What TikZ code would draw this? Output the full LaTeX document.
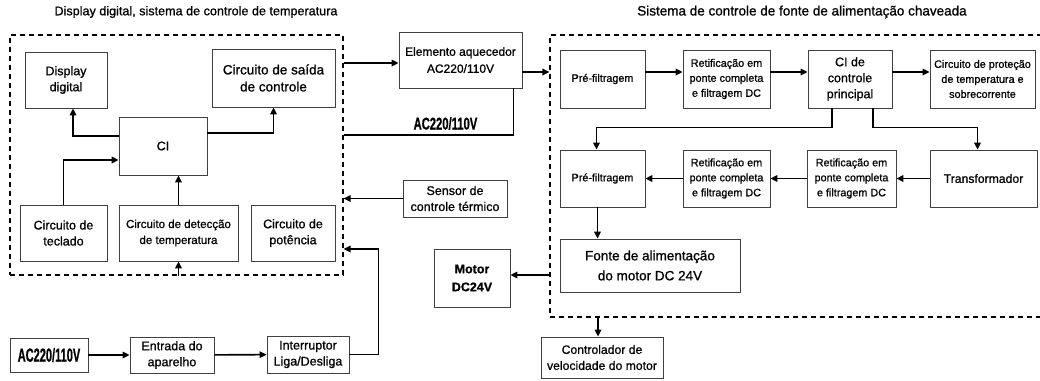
\documentclass[tikz,border=0pt]{standalone}
\usepackage{fontspec}
\setmainfont{Liberation Sans}[FakeBold=0.9]
\usetikzlibrary{arrows.meta}
\newcommand{\estreito}[2]{\scalebox{#1}[1]{\bfseries\fontsize{#2}{#2}\selectfont AC220/110V}}

\begin{document}
\begin{tikzpicture}[x=1pt,y=-1pt,
  bloco/.style={draw=black!75,line width=0.8pt,align=center,inner sep=0pt,font=\fontsize{12.5}{16}\selectfont},
  blocop/.style={bloco,font=\fontsize{10.8}{15}\selectfont},
  moldura/.style={draw,dash pattern=on 5pt off 4pt,line width=1.1pt,inner sep=0pt},
  seta/.style={-{Triangle[length=7pt,width=6.5pt]},line width=1.6pt},
  linha/.style={line width=1.6pt}]
  \clip (0,0) rectangle (1040,380);
  % titulos
  \node[font=\fontsize{12.6}{16}\selectfont] (titesq) at (196,12) {Display digital, sistema de controle de temperatura};
  \node[font=\fontsize{13.5}{16}\selectfont] (titdir) at (802,12) {Sistema de controle de fonte de alimentação chaveada};
  % molduras tracejadas
  \node[moldura,minimum width=333,minimum height=240] (esq) at (176.5,155) {};
  \node[moldura,minimum width=510,minimum height=282] (dir) at (805,176) {};
  % bloco de controle de temperatura
  \node[bloco,minimum width=82,minimum height=56] (disp) at (66,80) {Display\\digital};
  \node[bloco,minimum width=123,minimum height=58,font=\fontsize{13.5}{17}\selectfont] (saida) at (273.5,78) {Circuito de saída\\de controle};
  \node[bloco,minimum width=88,minimum height=58] (ci) at (163,146) {CI};
  \node[bloco,minimum width=87,minimum height=56] (tecl) at (63.5,233) {Circuito de\\teclado};
  \node[bloco,minimum width=119,minimum height=56,font=\fontsize{11.5}{16}\selectfont] (detec) at (178.5,233) {Circuito de detecção\\de temperatura};
  \node[bloco,minimum width=84,minimum height=56] (pot) at (293,233) {Circuito de\\potência};
  % blocos do meio
  \node[bloco,minimum width=123,minimum height=56,font=\fontsize{12}{17}\selectfont] (elem) at (460.5,60) {Elemento aquecedor\\AC220/110V};
  \node[bloco,minimum width=104,minimum height=37] (sensor) at (455,198.5) {Sensor de\\controle térmico};
  \node[bloco,minimum width=76,minimum height=58,font=\bfseries\fontsize{12.5}{18}\selectfont] (motor) at (472,278) {Motor\\DC24V};
  % entrada de energia
  \node[bloco,minimum width=78,minimum height=34] (ac) at (49,355) {\estreito{0.58}{19}};
  \node[bloco,minimum width=84,minimum height=36] (entrada) at (172,355) {Entrada do\\aparelho};
  \node[bloco,minimum width=82,minimum height=37] (interr) at (308,354.5) {Interruptor\\Liga/Desliga};
  % fonte chaveada
  \node[blocop,minimum width=85,minimum height=58] (pre1) at (602.5,79) {Pré-filtragem};
  \node[blocop,minimum width=87,minimum height=58] (ret1) at (726.5,79) {Retificação em\\ponte completa\\e filtragem DC};
  \node[blocop,minimum width=84,minimum height=58,font=\fontsize{12.5}{16}\selectfont] (cip) at (850,79) {CI de\\controle\\principal};
  \node[blocop,minimum width=105,minimum height=58] (prot) at (982.5,79) {Circuito de proteção\\de temperatura e\\sobrecorrente};
  \node[blocop,minimum width=85,minimum height=57] (pre2) at (602.5,178.5) {Pré-filtragem};
  \node[blocop,minimum width=87,minimum height=57] (ret2) at (726.5,178.5) {Retificação em\\ponte completa\\e filtragem DC};
  \node[blocop,minimum width=89,minimum height=57] (ret3) at (851.5,178.5) {Retificação em\\ponte completa\\e filtragem DC};
  \node[blocop,minimum width=107,minimum height=57,font=\fontsize{12.2}{15}\selectfont] (trans) at (983.5,178.5) {Transformador};
  \node[bloco,minimum width=180,minimum height=53,font=\fontsize{13.5}{20}\selectfont] (fonte) at (650,265.5) {Fonte de alimentação\\do motor DC 24V};
  \node[bloco,minimum width=122,minimum height=41,font=\fontsize{12.2}{16}\selectfont] (ctrl) at (602,357.5) {Controlador de\\velocidade do motor};
  % conexoes
  \draw[seta] ([yshift=10pt]ci.west) -| ([xshift=7pt]disp.south);
  \draw[seta] ([yshift=13pt]ci.east) -| (saida.south);
  \draw[seta] (tecl.north) |- ([yshift=-14pt]ci.west);
  \draw[seta] (detec.north) -- (ci.south -| detec.north);
  \draw[seta] (detec.south |- esq.south) -- (detec.south);
  \draw[seta] ([yshift=-3pt]elem.west -| esq.east) -- ([yshift=-3pt]elem.west);
  \draw[linha] ([xshift=-9pt]elem.south east) |- ([yshift=20pt]esq.east)
    node[above=1pt,pos=0.7] {\estreito{0.66}{17}};
  \draw[seta] (sensor.west) -- (sensor.west -| esq.east);
  \draw[seta] (ac) -- (entrada);
  \draw[seta] (entrada) -- (interr);
  \draw[seta] (interr.east) -- ++(29,0) |- ([yshift=-94pt]esq.east);
  \draw[seta] ([yshift=7pt]pre1.west -| elem.east) -- ([yshift=7pt]pre1.west -| dir.west);
  \draw[seta] ([yshift=7pt]pre1.east) -- ([yshift=7pt]ret1.west);
  \draw[seta] ([yshift=7pt]ret1.east) -- ([yshift=7pt]cip.west);
  \draw[seta] ([yshift=7pt]cip.east) -- ([yshift=7pt]prot.west);
  \draw[seta] ([xshift=-18pt]cip.south) -- ++(0,19) -| ([xshift=-6pt]pre2.north);
  \draw[seta] ([xshift=23pt]cip.south) -- ++(0,19) -| ([xshift=-6pt]trans.north);
  \draw[seta] (trans) -- (ret3);
  \draw[seta] (ret3) -- (ret2);
  \draw[seta] (ret2) -- (pre2);
  \draw[seta] ([xshift=-5pt]pre2.south) -- ([xshift=-5pt]pre2.south |- fonte.north);
  \draw[seta] ([yshift=3pt]motor.east -| dir.west) -- ([yshift=3pt]motor.east);
  \draw[seta] ([xshift=-4pt]ctrl.north |- dir.south) -- ([xshift=-4pt]ctrl.north);
\end{tikzpicture}
\end{document}
